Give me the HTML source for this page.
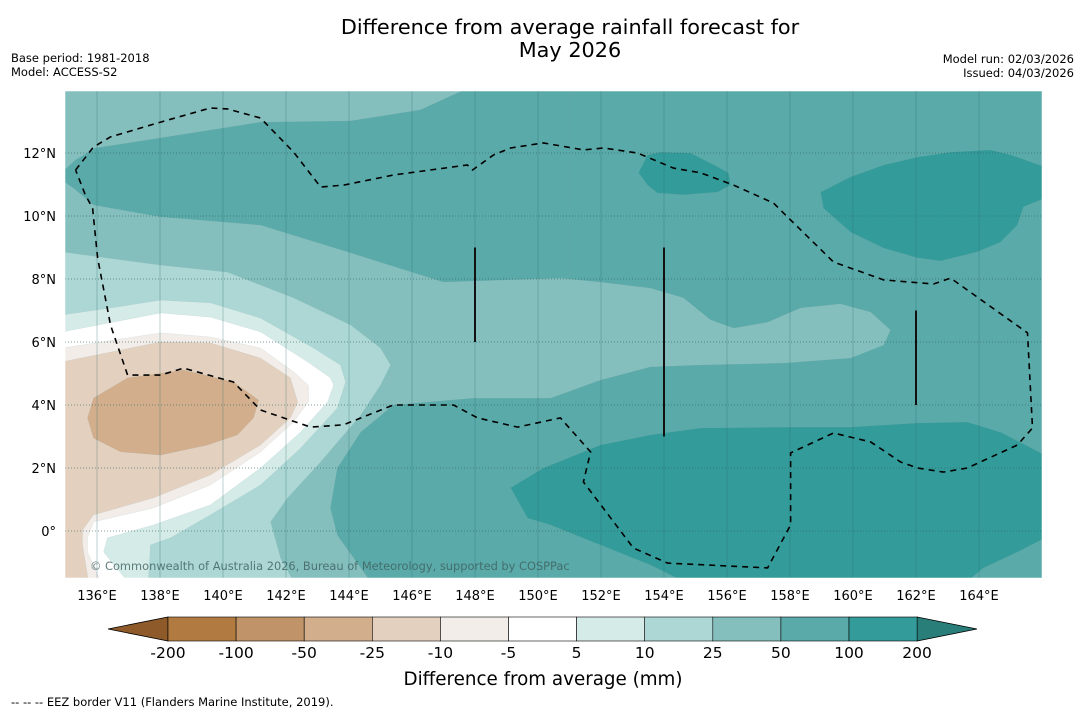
<!DOCTYPE html>
<html><head><meta charset="utf-8"><style>
html,body{margin:0;padding:0;background:#fff;}
svg{display:block;font-family:"DejaVu Sans","Liberation Sans",sans-serif;}
</style></head><body>
<svg id="chart" width="1085" height="713" viewBox="0 0 1085 713" xmlns="http://www.w3.org/2000/svg">
<text x="570" y="34" font-size="20.8" text-anchor="middle" fill="#000">Difference from average rainfall forecast for</text>
<text x="570" y="57" font-size="20.8" text-anchor="middle" fill="#000">May 2026</text>
<text x="11" y="62" font-size="11.5">Base period: 1981-2018</text>
<text x="11" y="76" font-size="11.5">Model: ACCESS-S2</text>
<text x="1074" y="63" font-size="11.5" text-anchor="end">Model run: 02/03/2026</text>
<text x="1074" y="77" font-size="11.5" text-anchor="end">Issued: 04/03/2026</text>
<defs><clipPath id="mapclip"><rect x="65" y="91" width="977" height="487"/></clipPath></defs>
<g id="map" clip-path="url(#mapclip)"></g>
<g id="axes"></g>
<g id="cbar"></g>
<text x="543" y="685" font-size="18.3" text-anchor="middle">Difference from average (mm)</text>
<text x="11" y="706" font-size="11.5">--  --  -- EEZ border V11 (Flanders Marine Institute, 2019).</text>
</svg>
<script>
const lonTicks=[136,138,140,142,144,146,148,150,152,154,156,158,160,162,164];
const latTicks=[0,2,4,6,8,10,12];
const cbarLevels=["-200","-100","-50","-25","-10","-5","5","10","25","50","100","200"];
const cbarColors=["#b07a41","#c09468","#d2ae8c","#e4d0bf","#f2ede8","#ffffff","#d5ebe8","#acd7d5","#84bfbe","#5aaaa9","#339b99"];
const contourLevels=["25-50","50-100","10-25","5-10","-5-5","-10--5","-25--10","-50--25","100-200a","100-200b","100-200c"];
const contourFill=["#84bfbe","#5aaaa9","#acd7d5","#d5ebe8","#ffffff","#f2ede8","#e4d0bf","#d2ae8c","#339b99","#339b99","#339b99"];
const contour25=[[134.9,14.1],[150.71,14.1],[150.71,8.03],[151.98,7.9],[153.57,7.71],[154.62,7.4],[155.48,6.7],[156.21,6.44],[157.29,6.63],[158.33,7.08],[159.6,7.21],[160.56,6.95],[161.19,6.38],[160.97,5.9],[159.92,5.49],[157.79,5.33],[155.16,5.27],[153.57,5.21],[151.98,4.79],[150.4,4.22],[147.95,4.22],[145.41,4.0],[144.37,3.14],[143.63,2.0],[143.41,0.73],[143.63,-0.13],[144.37,-1.17],[144.68,-1.6],[134.9,-1.6]];
const contour50=[[134.9,11.4],[135.32,11.78],[135.95,12.16],[138.02,12.48],[141.19,12.98],[144.05,13.02],[146.27,13.37],[147.86,14.1],[151,14.1],[151,8.03],[150.71,8.03],[147.0,7.9],[143.95,8.86],[141.19,9.71],[138.02,9.97],[135.89,10.35],[135.25,10.89],[134.9,11.13]];
const contour10=[[134.9,8.86],[138.02,8.44],[140.14,8.22],[142.24,7.4],[144.05,6.54],[145.0,5.81],[145.32,5.27],[145.0,4.63],[144.37,3.68],[143.1,2.19],[142.05,1.05],[141.51,0.29],[141.83,-0.86],[142.24,-1.6],[134.9,-1.6]];
const contour5=[[134.9,6.86],[136.43,7.08],[138.02,7.33],[139.6,7.24],[141.19,6.76],[142.87,5.81],[143.73,5.27],[143.89,4.73],[143.63,3.9],[142.46,2.63],[141.19,1.46],[139.6,0.51],[138.33,-0.22],[137.7,-0.44],[137.63,-1.6],[134.9,-1.6]];
const contour0=[[134.9,6.32],[138.02,6.92],[139.6,6.79],[141.19,6.32],[142.68,5.37],[143.41,4.86],[143.51,4.63],[143.32,4.1],[142.46,3.14],[141.19,2.0],[139.6,0.83],[137.79,0.19],[136.33,-0.22],[136.21,-0.67],[136.97,-1.6],[134.9,-1.6]];
const contourM5=[[134.9,5.81],[138.02,6.29],[139.6,6.16],[141.19,5.81],[142.24,5.05],[142.71,4.63],[142.71,4.1],[142.24,3.46],[141.19,2.51],[139.6,1.46],[137.79,0.73],[135.89,0.29],[135.7,-0.22],[135.7,-0.67],[136.11,-1.6],[134.9,-1.6]];
const contourM10=[[134.9,5.37],[138.02,6.0],[139.6,5.97],[141.19,5.49],[142.14,4.86],[142.37,4.1],[142.14,3.59],[141.19,2.73],[139.6,1.78],[137.79,1.05],[135.89,0.51],[135.54,0.03],[135.54,-0.44],[135.73,-1.6],[134.9,-1.6]];
const contourM25=[[135.89,4.22],[136.97,4.86],[138.75,5.11],[140.33,4.73],[141.13,4.16],[140.97,3.59],[140.46,3.05],[139.51,2.73],[138.02,2.41],[136.75,2.51],[135.89,2.95],[135.7,3.59]];
const contour100a=[[153.19,11.37],[153.48,11.94],[153.89,12.03],[154.84,12.0],[155.48,11.68],[156.05,11.37],[156.11,10.98],[155.7,10.76],[154.62,10.67],[153.79,10.73],[153.48,10.98]];
const contour100b=[[158.97,10.76],[159.92,11.24],[160.97,11.62],[162.05,11.87],[163.1,12.03],[164.37,12.1],[165.0,11.94],[166.1,11.56],[166.1,10.57],[165.41,10.29],[165.22,9.71],[164.68,9.17],[163.95,8.86],[162.78,8.57],[162.05,8.67],[160.97,8.98],[159.92,9.49],[159.06,10.25]];
const contour100c=[[149.13,1.37],[150.17,2.0],[151.98,2.73],[153.57,3.05],[155.16,3.27],[157.79,3.3],[159.92,3.3],[162.05,3.43],[163.63,3.46],[164.68,3.14],[166.1,2.41],[166.1,-0.22],[165.22,-0.67],[164.14,-1.17],[163.63,-1.6],[154.62,-1.6],[153.57,-1.08],[150.4,0.19],[149.67,0.41]];
const eezBorder=[[135.32,11.46],[135.89,12.19],[136.43,12.51],[138.02,12.98],[139.6,13.43],[140.14,13.4],[141.19,13.11],[142.24,12.03],[143.1,10.92],[143.83,10.98],[145.41,11.3],[147.76,11.62],[147.92,11.46],[148.59,11.94],[149.13,12.16],[150.17,12.32],[151.44,12.1],[152.08,12.16],[153.16,12.0],[154.3,11.52],[155.16,11.37],[156.21,10.98],[157.48,10.41],[157.79,10.1],[159.38,8.54],[160.97,7.97],[162.56,7.84],[163.1,8.03],[165.54,6.29],[165.7,3.27],[165.22,2.73],[163.63,2.0],[162.87,1.87],[162.05,2.0],[161.51,2.19],[160.56,2.83],[159.38,3.11],[158.02,2.48],[158.02,1.46],[158.02,0.19],[157.29,-1.17],[154.11,-1.02],[153.03,-0.54],[151.44,1.56],[151.67,2.51],[150.71,3.59],[149.35,3.3],[148.08,3.59],[147.32,4.0],[145.41,4.0],[143.83,3.37],[142.78,3.3],[141.19,3.84],[140.33,4.73],[138.75,5.17],[138.02,4.95],[136.97,4.95],[136.43,6.54],[136.02,8.67],[135.86,10.25],[135.63,10.67],[135.32,11.46]];
const dateLines=[[148,9,6],[154,9,3],[162,7,4]];

const NS="http://www.w3.org/2000/svg";
const X=lon=>97+(lon-136)*31.5;
const Y=lat=>531-lat*31.5;
function mk(tag,attrs,parent){const e=document.createElementNS(NS,tag);for(const k in attrs)e.setAttribute(k,attrs[k]);parent.appendChild(e);return e;}
const map=document.getElementById('map'),axes=document.getElementById('axes'),cbar=document.getElementById('cbar');
const bg=mk('rect',{x:65,y:91,width:977,height:487,fill:'#5aaaa9'},map);


const polys=[contour25,contour50,contour10,contour5,contour0,contourM5,contourM10,contourM25,contour100a,contour100b,contour100c];
polys.forEach((p,i)=>{
  const pg=mk('polygon',{points:p.map(q=>X(q[0]).toFixed(1)+','+Y(q[1]).toFixed(1)).join(' '),fill:contourFill[i],stroke:'#8aa',"stroke-width":0.3,"stroke-opacity":0.4},map);
  
  
});
lonTicks.forEach(l=>{
  const ln=mk('line',{x1:X(l),x2:X(l),y1:91,y2:578,stroke:'#2f6f6d',"stroke-width":0.7,"stroke-opacity":0.45},map);
  
  
  const t=mk('text',{x:X(l),y:600,"font-size":13,"text-anchor":"middle"},axes);t.textContent=l+'°E';
  
  
});
latTicks.forEach(l=>{
  const ln=mk('line',{x1:65,x2:1042,y1:Y(l),y2:Y(l),stroke:'#2f5f5d',"stroke-width":1,"stroke-dasharray":"1,2","stroke-opacity":0.6},map);
  
  
  const t=mk('text',{x:56,y:Y(l)+5,"font-size":13,"text-anchor":"end"},axes);t.textContent=l===0?'0°':l+'°N';
  
  
});
const eez=mk('polyline',{points:eezBorder.map(q=>X(q[0]).toFixed(1)+','+Y(q[1]).toFixed(1)).join(' '),fill:'none',stroke:'#000',"stroke-width":1.6,"stroke-dasharray":"6,5"},map);


dateLines.forEach(d=>{
  const ln=mk('line',{x1:X(d[0]),x2:X(d[0]),y1:Y(d[1]),y2:Y(d[2]),stroke:'#111',"stroke-width":2},map);
  
  
});
const cp=mk('text',{x:90,y:570,"font-size":11.4,fill:'#3d5f5e',"fill-opacity":0.8},map);
cp.textContent='© Commonwealth of Australia 2026, Bureau of Meteorology, supported by COSPPac';


const fr=mk('rect',{x:65,y:91,width:977,height:487,fill:'none',stroke:'#fff',"stroke-width":0.5},axes);


const cx0=168,cw=68.1,cy=617,ch=24;
const lt=mk('polygon',{points:`108,629 ${cx0},${cy} ${cx0},${cy+ch}`,fill:'#8e5a2a',stroke:'#000',"stroke-width":0.8},cbar);


const rx=cx0+cw*cbarColors.length;
const rt=mk('polygon',{points:`${rx},${cy} 977,629 ${rx},${cy+ch}`,fill:'#2a7e7a',stroke:'#000',"stroke-width":0.8},cbar);


cbarColors.forEach((c,i)=>{
  const r=mk('rect',{x:cx0+cw*i,y:cy,width:cw,height:ch,fill:c,stroke:'#000',"stroke-width":0.6},cbar);
  
  
});
cbarLevels.forEach((s,i)=>{
  const t=mk('text',{x:cx0+cw*i,y:658,"font-size":15.5,"text-anchor":"middle"},cbar);t.textContent=s;
  
  
});
</script>
</body></html>
